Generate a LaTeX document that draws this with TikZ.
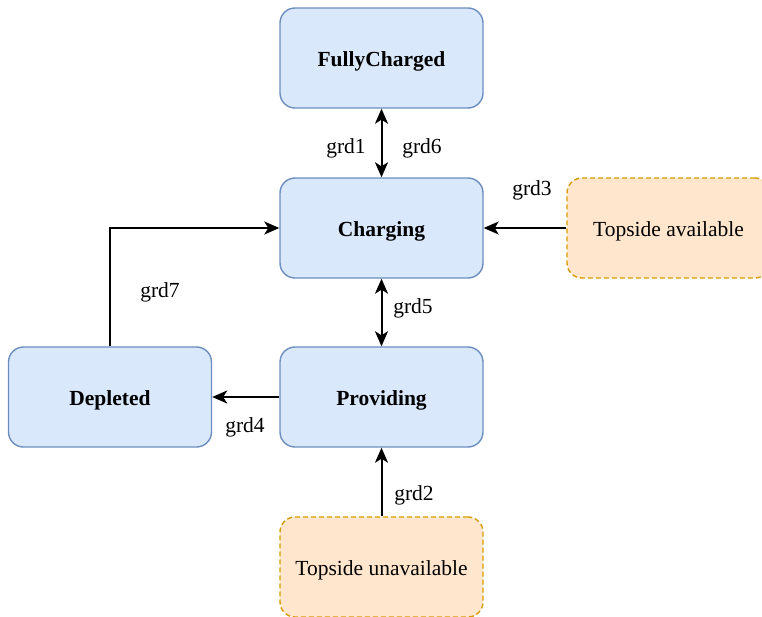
\documentclass[tikz,border=0pt]{standalone}
\usepackage{fontspec}
\setmainfont{Liberation Serif}
\usetikzlibrary{arrows.meta}
\definecolor{stateFill}{HTML}{DAE8FC}
\definecolor{stateLine}{HTML}{6C8EBF}
\definecolor{envFill}{HTML}{FFE6CC}
\definecolor{envLine}{HTML}{D79B00}
\tikzset{
  txt/.style={font=\fontsize{21.5}{25}\selectfont, text height=18pt, text depth=1pt},
  box/.style={line width=1.4pt, rounded corners=15pt,
    minimum width=203pt, minimum height=100pt, inner sep=0pt, txt},
  state/.style={box, draw=stateLine, fill=stateFill, font=\fontsize{21.5}{25}\selectfont\bfseries},
  env/.style={box, draw=envLine, fill=envFill, dash pattern=on 5pt off 3pt},
  tip/.tip={Stealth[length=15pt,width=13pt,inset=4pt]},
  conn/.style={line width=2pt, -tip},
  conn2/.style={line width=2pt, tip-tip},
  lbl/.style={txt, inner sep=0pt}
}
\begin{document}
\begin{tikzpicture}[x=1pt,y=-1pt]
\useasboundingbox (0,0) rectangle (762,616);
% states
\node[state] (full) at (381.5,58) {FullyCharged};
\node[state] (chg) at (381.5,228) {Charging};
\node[state] (prov) at (381.5,397) {Providing};
\node[state] (dep) at (110,397) {Depleted};
% environment conditions
\node[env] (tavail) at (668.5,228) {Topside available};
\node[env] (tunav) at (381.5,567) {Topside unavailable};
% transitions
\draw[conn2] (full) -- (chg);
\draw[conn2] (chg) -- (prov);
\draw[conn] (tavail) -- (chg);
\draw[conn] (prov) -- (dep);
\draw[conn] (tunav) -- (prov);
\draw[conn] (dep.north) |- (chg.west);
% guard labels
\node[lbl] (g1) at (346,145) {grd1};
\node[lbl] (g6) at (422,145) {grd6};
\node[lbl] (g3) at (532,187) {grd3};
\node[lbl] (g5) at (413,305) {grd5};
\node[lbl] (g7) at (160,289) {grd7};
\node[lbl] (g4) at (245,424) {grd4};
\node[lbl] (g2) at (414,492) {grd2};
\end{tikzpicture}
\end{document}
